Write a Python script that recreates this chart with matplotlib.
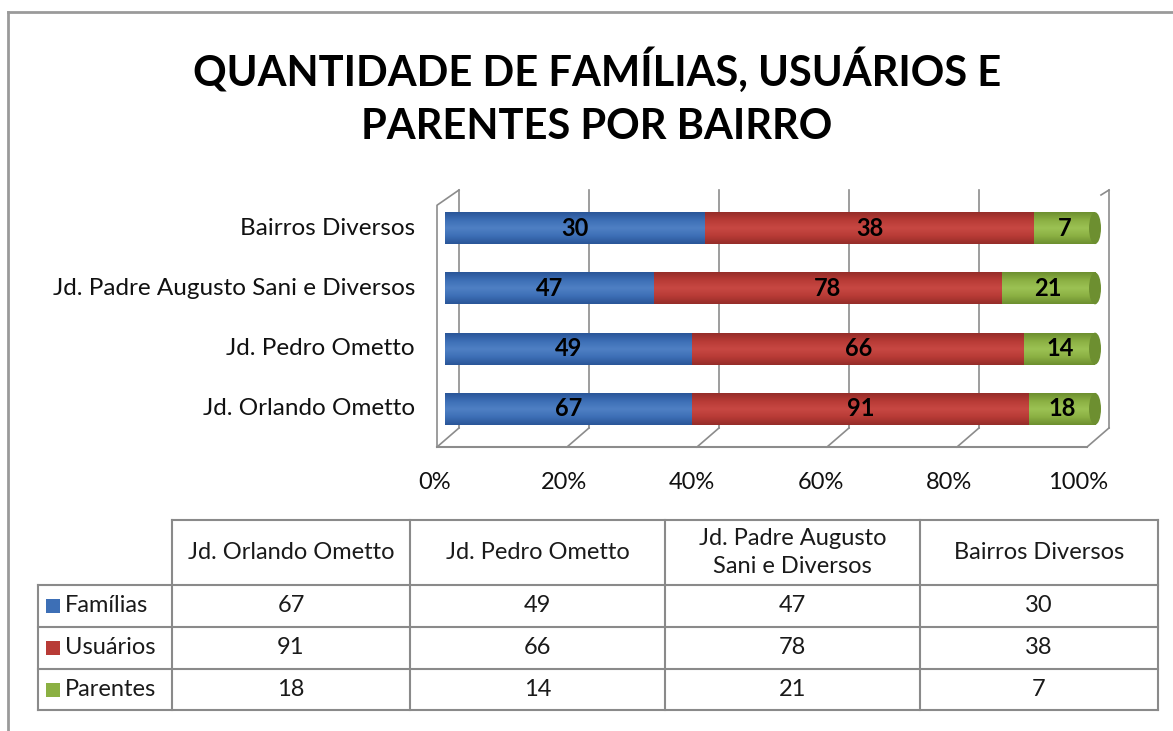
import numpy as np
import matplotlib
matplotlib.use('Agg')
import matplotlib.pyplot as plt
from matplotlib.colors import LinearSegmentedColormap
from matplotlib.patches import Ellipse, Rectangle

plt.rcParams['font.family'] = ['Lato', 'DejaVu Sans']

# dados
bairros = ['Jd. Orlando Ometto', 'Jd. Pedro Ometto',
           'Jd. Padre Augusto Sani e Diversos', 'Bairros Diversos']
bairros_tabela = ['Jd. Orlando Ometto', 'Jd. Pedro Ometto',
                  'Jd. Padre Augusto\nSani e Diversos', 'Bairros Diversos']
series = ['Famílias', 'Usuários', 'Parentes']
familias = [67, 49, 47, 30]
usuarios = [91, 66, 78, 38]
parentes = [18, 14, 21, 7]
ticks_pct = [0, 20, 40, 60, 80, 100]

cores = ['#3d6fb6', '#b83b36', '#8bb043']
escuras = ['#2a5598', '#952d29', '#6d8f30']
claras = ['#4f80c4', '#c84843', '#9cc254']

W, H = 1173, 731
fig = plt.figure(figsize=(W / 100, H / 100), dpi=100)

# pixel -> figura
def fx(x):
    return x / W

def fy(y):
    return 1 - y / H

# moldura
fig.add_artist(plt.Line2D([fx(8), fx(8)], [fy(12), fy(731)], color='#9a9a9a', lw=2))
fig.add_artist(plt.Line2D([fx(8), fx(1173)], [fy(12), fy(12)], color='#9a9a9a', lw=2))

# titulo
fig.text(fx(597), fy(70), 'QUANTIDADE DE FAMÍLIAS, USUÁRIOS E', ha='center', va='center',
         fontsize=30, fontweight='bold')
fig.text(fx(597), fy(127), 'PARENTES POR BAIRRO', ha='center', va='center',
         fontsize=30, fontweight='bold')

# grafico de barras 100% empilhadas
ax = fig.add_axes([fx(438), fy(447), (1104 - 438) / W, (447 - 190) / H])
px = 650.0
ax.axis('off')

dados = np.array([familias, usuarios, parentes], dtype=float)
totais = dados.sum(axis=0)
frac = dados / totais
y = np.arange(len(bairros))
h = 0.53

# paredes / grade 3D
back = 14 / px
front = -8 / px
yb, yf = -0.317, -0.633
gc = '#8c8c8c'
for t in ticks_pct:
    xv = t / 100
    ax.plot([xv + back, xv + back], [yb, 3.633], color=gc, lw=1.2, zorder=0, clip_on=False)
    ax.plot([xv + back, xv + front], [yb, yf], color=gc, lw=1.2, zorder=0, clip_on=False)
ax.plot([front, 1 + front], [yf, yf], color=gc, lw=1.5, zorder=0, clip_on=False)
ax.plot([front, front, back], [yf, 3.38, 3.633], color=gc, lw=1.2, zorder=0, clip_on=False)
ax.plot([1 + back, 1 + back - 8 / px], [3.633, 3.55], color=gc, lw=1.2, zorder=0, clip_on=False)

esq = np.zeros(len(bairros))
for i in range(3):
    cmap = LinearSegmentedColormap.from_list('c%d' % i, [escuras[i], cores[i], claras[i], cores[i], escuras[i]])
    barras = ax.barh(y, frac[i], left=esq, height=h, color=cores[i], zorder=2)
    for j, b in enumerate(barras):
        grad = np.linspace(0, 1, 64).reshape(-1, 1)
        ax.imshow(grad, extent=[esq[j], esq[j] + frac[i][j], y[j] - h / 2, y[j] + h / 2],
                  aspect='auto', cmap=cmap, zorder=3, interpolation='bilinear')
        ax.text(esq[j] + frac[i][j] / 2, y[j], '%d' % dados[i][j], ha='center', va='center',
                fontsize=17, fontweight='bold', color='black', zorder=5)
    esq = esq + frac[i]
for j in range(len(bairros)):
    ax.add_patch(Ellipse((1.0, y[j]), 12 / px, h, facecolor=escuras[2], edgecolor='none', zorder=4))

ax.set_xlim(-7 / px, 1 + 9 / px)
ax.set_ylim(-0.633, 3.633)

for j, nome in enumerate(bairros):
    ax.text(-30 / px, y[j], nome, ha='right', va='center', fontsize=17.5, clip_on=False,
            color='#111111')
for t in ticks_pct:
    ax.text((-10 + t / 100 * 643) / px, -1.217, '%d%%' % t, ha='center', va='center',
            fontsize=17, clip_on=False, color='#111111')

# tabela de dados
tab = fig.add_axes([0, 0, 1, 1])
tab.set_xlim(0, W)
tab.set_ylim(H, 0)
tab.axis('off')
cols = [38, 172, 410, 665, 920, 1158]
rows = [520, 585, 627, 669, 710]
lc = '#8a8a8a'
tab.plot([cols[1], cols[-1]], [rows[0], rows[0]], color=lc, lw=1.5)
for r in rows[1:]:
    tab.plot([cols[0], cols[-1]], [r, r], color=lc, lw=1.5)
tab.plot([cols[0], cols[0]], [rows[1], rows[-1]], color=lc, lw=1.5)
for c in cols[1:]:
    tab.plot([c, c], [rows[0], rows[-1]], color=lc, lw=1.5)

for k, nome in enumerate(bairros_tabela):
    cx = (cols[k + 1] + cols[k + 2]) / 2
    tab.text(cx, (rows[0] + rows[1]) / 2, nome, ha='center', va='center', fontsize=17,
             linespacing=1.4, color='#1a1a1a')
for i, s in enumerate(series):
    cy = (rows[i + 1] + rows[i + 2]) / 2
    tab.add_patch(Rectangle((46, cy - 7), 14, 14, facecolor=cores[i], edgecolor='none'))
    tab.text(65, cy, s, ha='left', va='center', fontsize=17, color='#1a1a1a')
    for k in range(len(bairros)):
        cx = (cols[k + 1] + cols[k + 2]) / 2
        tab.text(cx, cy, '%d' % dados[i][k], ha='center', va='center', fontsize=17,
                 color='#1a1a1a')

fig.savefig('out.png', dpi=100)
